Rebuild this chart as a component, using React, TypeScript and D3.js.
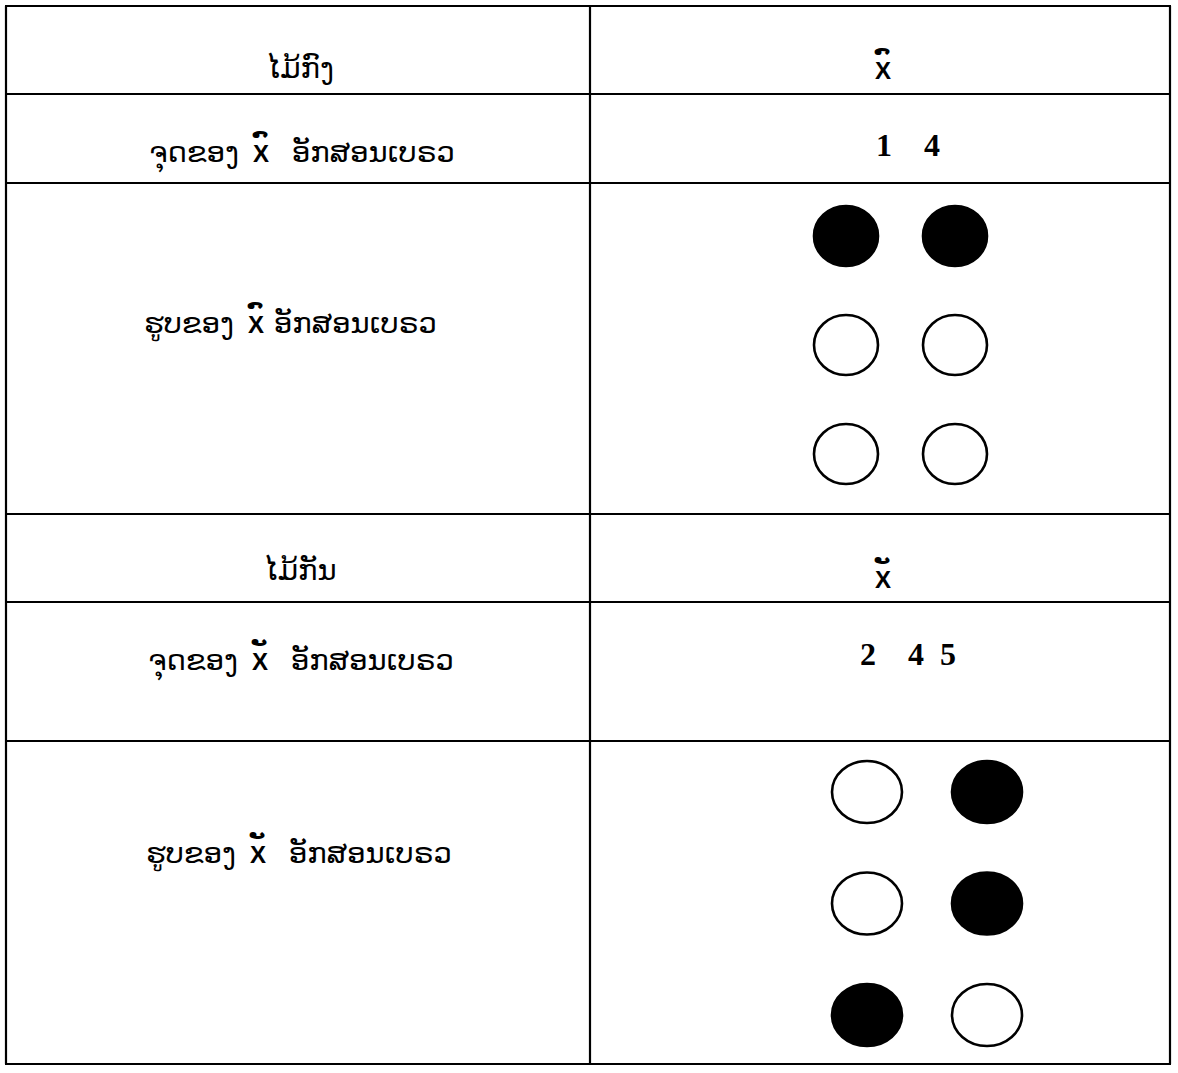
import React from 'react';
import * as d3 from 'd3';

// table content, row by row
const leftPrefix = ['ໄມ້ກົງ', 'ຈຸດຂອງ', 'ຮູບຂອງ', 'ໄມ້ກັນ', 'ຈຸດຂອງ', 'ຮູບຂອງ'];
const leftSuffix = ['', 'ອັກສອນເບຣວ', 'ອັກສອນເບຣວ', '', 'ອັກສອນເບຣວ', 'ອັກສອນເບຣວ'];
// Lao vowel mark carried by the placeholder X in each row
const rowMarks = ['\u0EBB', '\u0EBB', '\u0EBB', '\u0EB1', '\u0EB1', '\u0EB1'];
const rightLabels = ['X', '1    4', '', 'X', '2    4  5', ''];

// braille cells as drawn: filled dot numbers (1-3 left column, 4-6 right column)
const kongFilled = [1, 4];
const kanFilled = [3, 4, 5];
const cells = [null, null, kongFilled, null, null, kanFilled];

const W = 1178;
const H = 1073;
const rowEdges = [6, 94, 183, 514, 602, 741, 1064];
const colEdges = [6, 590, 1170];
// baselines of the text in each row, measured from the row top
const leftBase = [72, 68, 150, 66, 68, 122];
const rightBase = [73, 62, 0, 74, 63, 0];
// x of the inline X in the left column
const leftX = [0, 261, 256, 0, 260, 258];

const laoFont = '"DejaVu Sans", sans-serif';
const latinBold = '"Liberation Sans", Arial, sans-serif';
const serifBold = '"Liberation Serif", "Times New Roman", serif';

// tspans for an X with a Lao vowel mark set above it (mark sits on a no-break space)
function markedX(x, y, mark) {
  return [
    <tspan key="x" x={x} y={y} textAnchor="middle" fontSize={24} fontWeight="bold" fontFamily={latinBold}>X</tspan>,
    <tspan key="m" x={x - 1} y={y - 9} textAnchor="start" fontSize={24} fontWeight="bold" fontFamily={laoFont}>{'\u00A0' + mark}</tspan>,
  ];
}

function BrailleCell({ filled, x0, x1, y0, y1, rx, ry }) {
  const col = d3.scalePoint().domain([0, 1]).range([x0, x1]);
  const row = d3.scalePoint().domain([0, 1, 2]).range([y0, y1]);
  return (
    <g>
      {d3.range(1, 7).map((d) => {
        const on = filled.includes(d);
        return (
          <ellipse
            key={d}
            cx={col(d <= 3 ? 0 : 1)}
            cy={row((d - 1) % 3)}
            rx={rx}
            ry={ry}
            fill={on ? '#000' : '#fff'}
            stroke="#000"
            strokeWidth={2.6}
          />
        );
      })}
    </g>
  );
}

export default function App() {
  const fs = 29;
  return (
    <svg width={W} height={H} style={{ position: 'absolute', left: 0, top: 0, background: '#fff' }}>
      <rect x={0} y={0} width={W} height={H} fill="#fff" />

      {/* grid */}
      {rowEdges.map((y, i) => (
        <line key={'h' + i} x1={colEdges[0] - 1} x2={colEdges[2] + 1} y1={y} y2={y} stroke="#000" strokeWidth={2.2} />
      ))}
      {colEdges.map((x, i) => (
        <line key={'v' + i} x1={x} x2={x} y1={rowEdges[0]} y2={rowEdges[rowEdges.length - 1]} stroke="#000" strokeWidth={2.2} />
      ))}

      {/* left column */}
      {leftPrefix.map((p, i) => {
        const yb = rowEdges[i] + leftBase[i];
        if (!leftSuffix[i]) {
          return (
            <text key={'l' + i} x={300} y={yb} textAnchor="middle" fontSize={fs} fontFamily={laoFont}>{p}</text>
          );
        }
        const xc = leftX[i];
        return (
          <text key={'l' + i} fontSize={fs} fontFamily={laoFont}>
            <tspan x={xc - 22} y={yb} textAnchor="end">{p}</tspan>
            {markedX(xc, yb, rowMarks[i])}
            <tspan x={i === 2 ? xc + 18 : xc + 31} y={yb} textAnchor="start">{leftSuffix[i]}</tspan>
          </text>
        );
      })}

      {/* right column */}
      {rightLabels.map((t, i) => {
        if (!t) return null;
        const yb = rowEdges[i] + rightBase[i];
        if (t === 'X') return <text key={'r' + i}>{markedX(883, yb, rowMarks[i])}</text>;
        return (
          <text
            key={'r' + i}
            x={i === 1 ? 876 : 860}
            y={yb}
            fontSize={32}
            fontWeight="bold"
            fontFamily={serifBold}
            style={{ whiteSpace: 'pre' }}
          >
            {t}
          </text>
        );
      })}

      {/* braille cells */}
      {cells.map((f, i) => {
        if (!f) return null;
        const first = i === 2;
        return (
          <BrailleCell
            key={'c' + i}
            filled={f}
            x0={first ? 846 : 867}
            x1={first ? 955 : 987}
            y0={first ? 236 : 792}
            y1={first ? 454 : 1015}
            rx={first ? 32 : 35}
            ry={first ? 30 : 31}
          />
        );
      })}
    </svg>
  );
}
